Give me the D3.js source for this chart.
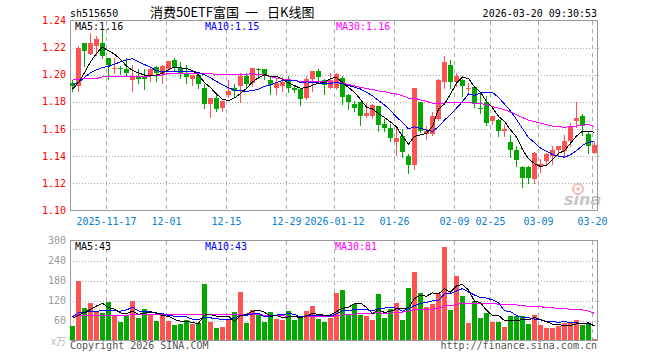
<!DOCTYPE html>
<html><head><meta charset="utf-8">
<script src="https://cdn.jsdelivr.net/npm/d3@7"></script>
<style>body{margin:0;background:#fff}svg{display:block}</style>
</head><body><svg id="c" width="660" height="360"></svg>
<script>
const dates = [
"2025-11-07","2025-11-10","2025-11-11","2025-11-12","2025-11-13","2025-11-14",
"2025-11-17","2025-11-18","2025-11-19","2025-11-20","2025-11-21",
"2025-11-24","2025-11-25","2025-11-26","2025-11-27","2025-11-28",
"2025-12-01","2025-12-02","2025-12-03","2025-12-04","2025-12-05",
"2025-12-08","2025-12-09","2025-12-10","2025-12-11","2025-12-12",
"2025-12-15","2025-12-16","2025-12-17","2025-12-18","2025-12-19",
"2025-12-22","2025-12-23","2025-12-24","2025-12-25","2025-12-26",
"2025-12-29","2025-12-30","2025-12-31",
"2026-01-05","2026-01-06","2026-01-07","2026-01-08","2026-01-09",
"2026-01-12","2026-01-13","2026-01-14","2026-01-15","2026-01-16",
"2026-01-19","2026-01-20","2026-01-21","2026-01-22","2026-01-23",
"2026-01-26","2026-01-27","2026-01-28","2026-01-29","2026-01-30",
"2026-02-02","2026-02-03","2026-02-04","2026-02-05","2026-02-06",
"2026-02-09","2026-02-10","2026-02-11","2026-02-12","2026-02-13",
"2026-02-24","2026-02-25","2026-02-26","2026-02-27",
"2026-03-02","2026-03-03","2026-03-04","2026-03-05","2026-03-06",
"2026-03-09","2026-03-10","2026-03-11","2026-03-12","2026-03-13",
"2026-03-16","2026-03-17","2026-03-18","2026-03-19","2026-03-20"];

const open = [
1.1943,1.1918,1.2232,1.2151,1.2212,1.2237,1.2122,1.2046,1.2050,1.2041,
1.1963,1.1992,1.1992,1.1992,1.2058,1.2004,1.2046,1.2107,1.2048,1.2016,
1.1967,1.1999,1.1901,1.1784,1.1828,1.1754,1.1852,1.1906,1.1918,1.1992,
1.1936,1.2046,1.2041,1.1963,1.1906,1.1914,1.1955,1.1906,1.1894,1.1828,
1.1967,1.2029,1.1960,1.1906,1.1906,1.1980,1.1852,1.1784,1.1801,1.1693,
1.1693,1.1767,1.1637,1.1608,1.1502,1.1551,1.1404,1.1336,1.1796,1.1563,
1.1563,1.1674,1.1948,1.2070,1.1948,1.1963,1.1904,1.1911,1.1754,1.1796,
1.1661,1.1666,1.1588,1.1507,1.1446,1.1319,1.1319,1.1233,1.1331,1.1368,
1.1404,1.1448,1.1441,1.1514,1.1661,1.1693,1.1563,1.1424];
const high = [
1.1963,1.2212,1.2232,1.2310,1.2286,1.2330,1.2127,1.2127,1.2065,1.2127,
1.2073,1.2046,1.2046,1.2053,1.2065,1.2073,1.2102,1.2127,1.2097,1.2070,
1.1999,1.2009,1.1931,1.1828,1.1857,1.1808,1.1963,1.1931,1.2016,1.2016,
1.2048,1.2048,1.2046,1.1992,1.1967,1.1985,1.1992,1.1918,1.1906,1.1992,
1.2029,1.2046,1.1967,1.2016,1.2016,1.1992,1.1857,1.1808,1.1801,1.1791,
1.1784,1.1772,1.1674,1.1637,1.1605,1.1600,1.1417,1.1906,1.1801,1.1625,
1.1723,1.1967,1.2139,1.2107,1.2016,1.1972,1.1943,1.1918,1.1857,1.1845,
1.1693,1.1674,1.1630,1.1558,1.1478,1.1331,1.1331,1.1429,1.1380,1.1424,
1.1478,1.1478,1.1556,1.1644,1.1801,1.1710,1.1576,1.1502];
const low = [
1.1882,1.1882,1.2065,1.2151,1.2144,1.2127,1.1967,1.2016,1.2004,1.1992,
1.1882,1.1936,1.1894,1.1955,1.1955,1.1938,1.2029,1.2029,1.1980,1.1938,
1.1923,1.1899,1.1752,1.1691,1.1735,1.1735,1.1833,1.1833,1.1801,1.1899,
1.1918,1.1980,1.1972,1.1857,1.1857,1.1882,1.1870,1.1870,1.1776,1.1821,
1.1882,1.1943,1.1857,1.1899,1.1894,1.1784,1.1747,1.1735,1.1630,1.1686,
1.1679,1.1588,1.1588,1.1515,1.1409,1.1392,1.1277,1.1306,1.1576,1.1527,
1.1556,1.1669,1.1906,1.1906,1.1918,1.1845,1.1857,1.1759,1.1718,1.1630,
1.1637,1.1551,1.1551,1.1392,1.1331,1.1172,1.1204,1.1204,1.1282,1.1343,
1.1343,1.1404,1.1404,1.1478,1.1612,1.1556,1.1424,1.1424];
const close = [
1.1914,1.2200,1.2176,1.2237,1.2266,1.2139,1.2070,1.2048,1.2048,1.2014,
1.1985,1.1972,1.1972,1.2041,1.2016,1.2065,1.2100,1.2060,1.2016,1.1985,
1.1999,1.1931,1.1784,1.1828,1.1747,1.1808,1.1882,1.1882,1.1992,1.1931,
1.2048,1.2041,1.1992,1.1923,1.1936,1.1948,1.1906,1.1889,1.1821,1.1967,
1.2029,1.1985,1.1923,1.1960,1.2004,1.1840,1.1801,1.1754,1.1693,1.1718,
1.1776,1.1632,1.1608,1.1532,1.1534,1.1429,1.1336,1.1901,1.1588,1.1588,
1.1693,1.1963,1.2097,1.1948,1.1992,1.1918,1.1906,1.1791,1.1752,1.1644,
1.1693,1.1588,1.1600,1.1448,1.1375,1.1240,1.1240,1.1424,1.1343,1.1417,
1.1448,1.1478,1.1514,1.1625,1.1679,1.1625,1.1473,1.1485];
const volume = [
43,178,98,112,86,83,115,74,55,76,
119,67,94,76,58,78,58,46,49,61,
51,52,169,56,38,41,63,85,146,53,
92,77,55,85,65,61,88,62,68,88,
104,65,55,69,142,151,81,109,78,75,
61,139,67,95,112,61,157,205,142,100,
110,141,282,91,195,135,52,118,67,82,
55,55,40,73,73,73,49,76,46,37,
38,45,52,53,62,46,51,4];

// moving-average values for the first days (window not yet full)
const priceMa5Head = [1.1894,1.1943,1.2016,1.2095];
const priceMa10Head = [1.1923,1.1943,1.1980,1.2016,1.2036,1.2053,1.2062,1.2078,1.2095];
const priceMa30Head = [1.1967,1.1967,1.1972,1.1972,1.1972,1.1985,1.1985,1.1985,1.1985,1.1985,
  1.1985,1.1985,1.1985,1.1992,1.1992,1.1999,1.2009,1.2009,1.2009,1.2009,
  1.2009,1.2009,1.2009,1.2009,1.2000,1.2000,1.2000,1.2000,1.2000];
const volMa5Head = [67,76,84,93];
const volMa10Head = [71,83,85,86,88,89,90,89,88];
const volMa30Head = [74,74,74,75,76,76,76,76,76,76,77,77,77,77,77,77,77,77,77,77,
  77,77,77,77,77,77,77,77,78];

const tickDates = ["2025-11-17","2025-12-01","2025-12-15","2025-12-29","2026-01-12","2026-01-26","2026-02-09","2026-02-25","2026-03-09","2026-03-20"];
const tickLabels = ["2025-11-17","12-01","12-15","12-29","2026-01-12","01-26","02-09","02-25","03-09","03-20"];
const priceTicks = [1.24,1.22,1.20,1.18,1.16,1.14,1.12,1.10];
const volTicks = [300,240,180,120,60];

const code = "sh515650";
const titleParts = ["消费50ETF富国", "一", "日K线图"];
const stamp = "2026-03-20 09:30:53";
const copyright = "Copyright 2026 SINA.COM";
const url = "http://finance.sina.com.cn";

const RED = "#ff5252", GREEN = "#00a800";
const MONO = "'DejaVu Sans Mono', monospace";

const svg = d3.select("#c");
svg.append("rect").attr("width",660).attr("height",360).attr("fill","#fff");

const L = 70, R = 598;
const x = d3.scaleBand().domain(dates).range([L, R]).paddingInner(0).paddingOuter(0);
const y = d3.scaleLinear().domain([1.10, 1.24]).range([210.5, 20.5]);
const yv = d3.scaleLinear().domain([0, 300]).range([340.5, 240.5]);

function mov(arr, n, head) {
  return arr.map((v, i) => i < n - 1 ? head[i] : d3.mean(arr.slice(i - n + 1, i + 1)));
}
const pm5 = mov(close, 5, priceMa5Head), pm10 = mov(close, 10, priceMa10Head), pm30 = mov(close, 30, priceMa30Head);
const vm5 = mov(volume, 5, volMa5Head), vm10 = mov(volume, 10, volMa10Head), vm30 = mov(volume, 30, volMa30Head);

const up = dates.map((d, i) => close[i] >= open[i]);

// header
svg.append("text").attr("x", 70).attr("y", 16.5).attr("font-family", MONO).attr("font-size", 10).attr("fill", "#000").text(code);
const tt = svg.append("text").attr("y", 16.5).attr("font-family", "'Noto Sans CJK SC', sans-serif").attr("font-size", 13).attr("fill", "#000");
const titleX = [150, 245, 267];
titleParts.forEach((p, k) => tt.append("tspan").attr("x", titleX[k]).text(p + (k < titleParts.length - 1 ? " " : "")));
svg.append("text").attr("x", 597).attr("y", 16.5).attr("text-anchor", "end").attr("font-family", MONO).attr("font-size", 10).attr("fill", "#000").text(stamp);

// grids
const g = svg.append("g").attr("shape-rendering", "crispEdges");
priceTicks.filter(t => t < 1.239 && t > 1.101).forEach(t => {
  g.append("line").attr("x1", L).attr("x2", 600).attr("y1", Math.round(y(t)) + 0.5).attr("y2", Math.round(y(t)) + 0.5)
    .attr("stroke", "#aaa").attr("stroke-dasharray", "1,2");
});
volTicks.filter(t => t < 300).forEach(t => {
  g.append("line").attr("x1", L).attr("x2", 600).attr("y1", Math.round(yv(t)) + 0.5).attr("y2", Math.round(yv(t)) + 0.5)
    .attr("stroke", "#aaa").attr("stroke-dasharray", "1,2");
});
tickDates.forEach(d => {
  const xx = x(d) + 0.5;
  g.append("line").attr("x1", xx).attr("x2", xx).attr("y1", 21).attr("y2", 210).attr("stroke", "#aaa").attr("stroke-dasharray", "4,4");
  g.append("line").attr("x1", xx).attr("x2", xx).attr("y1", 241).attr("y2", 340).attr("stroke", "#aaa").attr("stroke-dasharray", "4,4");
});
// frames
g.append("rect").attr("x", 70.5).attr("y", 20.5).attr("width", 527).attr("height", 190).attr("fill", "none").attr("stroke", "#999");
g.append("rect").attr("x", 70.5).attr("y", 240.5).attr("width", 527).attr("height", 100).attr("fill", "none").attr("stroke", "#999");

// axis labels
priceTicks.forEach(t => {
  svg.append("text").attr("x", 66).attr("y", y(t) + 3.5).attr("text-anchor", "end").attr("font-family", MONO).attr("font-size", 10)
    .attr("fill", "#f00").text(t.toFixed(2));
});
volTicks.forEach(t => {
  svg.append("text").attr("x", 66).attr("y", yv(t) + 3.5).attr("text-anchor", "end").attr("font-family", MONO).attr("font-size", 10)
    .attr("fill", "#999").text(t);
});
svg.append("text").attr("x", 66).attr("y", 344.5).attr("text-anchor", "end").attr("font-family", "'Noto Sans CJK SC', sans-serif").attr("font-size", 10)
  .attr("fill", "#bbb").text("x万");
tickDates.forEach((d, k) => {
  svg.append("text").attr("x", x(d) + 0.5).attr("y", 224.5).attr("text-anchor", "middle").attr("font-family", MONO).attr("font-size", 10)
    .attr("fill", "#0a80d0").text(tickLabels[k]);
});

// watermark
const wm = svg.append("g").attr("opacity", 0.55);
wm.append("circle").attr("cx", 578).attr("cy", 189).attr("r", 5).attr("fill", "none").attr("stroke", "#f08080").attr("stroke-width", 2);
wm.append("circle").attr("cx", 578).attr("cy", 189).attr("r", 1.8).attr("fill", "#f08080");
wm.append("text").attr("x", 564).attr("y", 205).attr("font-family", "'DejaVu Sans', sans-serif").attr("font-style", "italic").attr("font-weight", "bold")
  .attr("font-size", 16).attr("fill", "#999").text("sina");

// candles
const cg = svg.append("g").attr("shape-rendering", "crispEdges");
dates.forEach((d, i) => {
  const col = up[i] ? RED : GREEN;
  const x0 = x(d);
  cg.append("line").attr("x1", x0 + 2.5).attr("x2", x0 + 2.5).attr("y1", Math.round(y(high[i]))).attr("y2", Math.round(y(low[i])) + 1)
    .attr("stroke", col);
  const top = Math.round(y(Math.max(open[i], close[i])));
  const bot = Math.round(y(Math.min(open[i], close[i])));
  cg.append("rect").attr("x", x0).attr("y", top).attr("width", 5).attr("height", Math.max(1, bot - top)).attr("fill", col);
  const vt = Math.round(yv(volume[i]));
  cg.append("rect").attr("x", x0).attr("y", vt).attr("width", 5).attr("height", 340 - vt).attr("fill", col);
});

// MA lines
function drawLine(vals, sc, color) {
  const line = d3.line().x((v, i) => x(dates[i]) + 2.5).y(v => sc(v));
  svg.append("path").attr("d", line(vals)).attr("fill", "none").attr("stroke", color).attr("stroke-width", 1).attr("shape-rendering", "crispEdges");
}
drawLine(pm30, y, "#ff00ff");
drawLine(pm10, y, "#0000ff");
drawLine(pm5, y, "#000");
drawLine(vm30, yv, "#ff00ff");
drawLine(vm10, yv, "#0000ff");
drawLine(vm5, yv, "#000");

// legends
const last = a => a[a.length - 1];
const leg = (xx, yy, txt, col) => svg.append("text").attr("x", xx).attr("y", yy).attr("font-family", MONO).attr("font-size", 10).attr("fill", col).text(txt);
leg(75, 30, "MA5:" + last(pm5).toFixed(2), "#000");
leg(205, 30, "MA10:" + last(pm10).toFixed(2), "#0000ff");
leg(336, 30, "MA30:" + last(pm30).toFixed(2), "#ff00ff");
leg(75, 249.5, "MA5:" + Math.round(last(vm5)), "#000");
leg(205, 249.5, "MA10:" + Math.round(last(vm10)), "#0000ff");
leg(335, 249.5, "MA30:" + Math.round(last(vm30)), "#ff00ff");

// footer
svg.append("text").attr("x", 70).attr("y", 349).attr("font-family", MONO).attr("font-size", 10).attr("fill", "#555").text(copyright);
svg.append("text").attr("x", 597).attr("y", 349).attr("text-anchor", "end").attr("font-family", MONO).attr("font-size", 10).attr("fill", "#555").text(url);
</script></body></html>
